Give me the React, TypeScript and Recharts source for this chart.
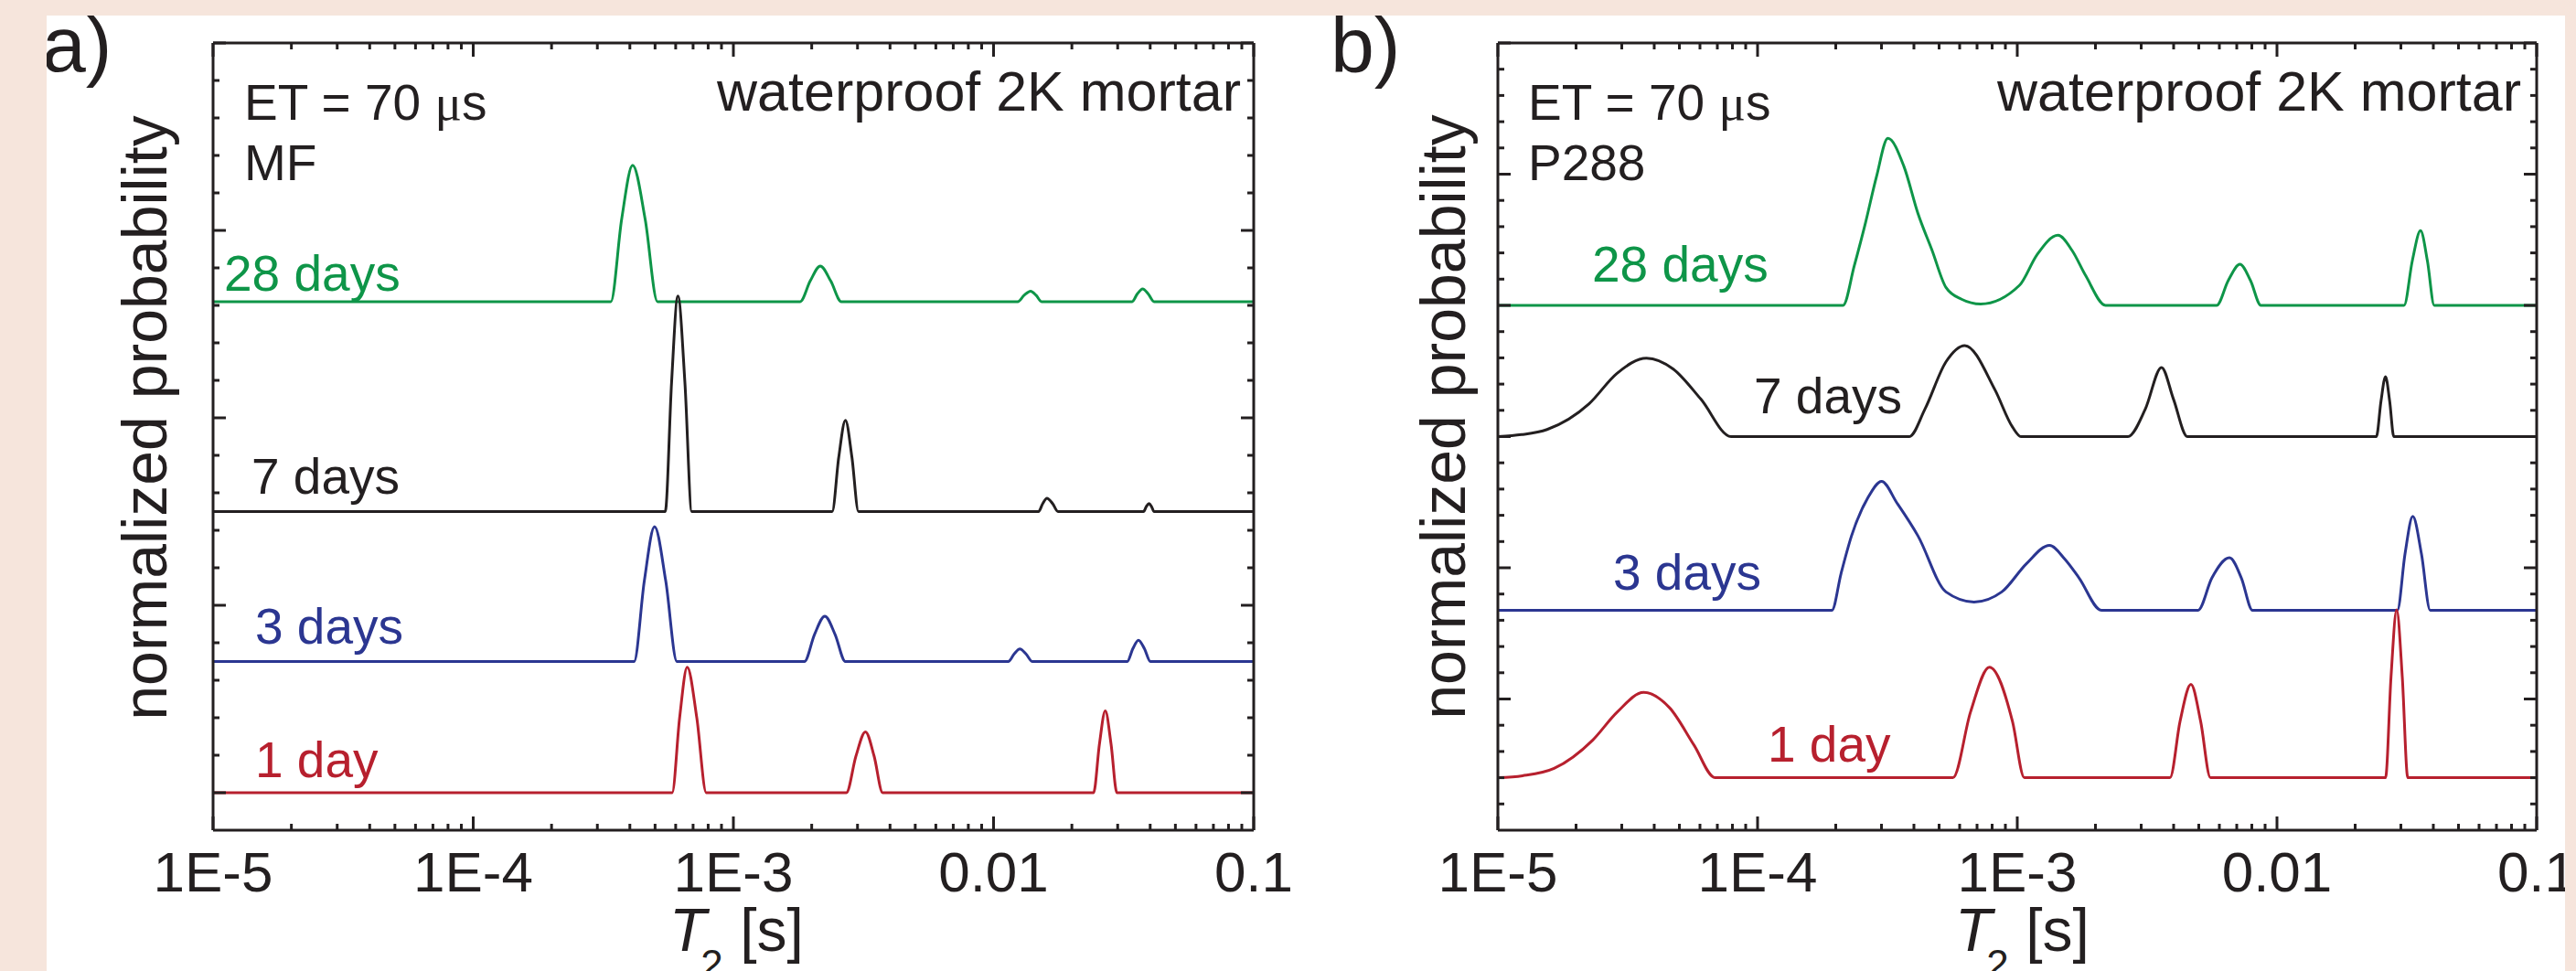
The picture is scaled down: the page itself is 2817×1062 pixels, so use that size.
import { LineChart, Line, XAxis, YAxis } from 'recharts'

const INK = '#231f20'
const PEACH = '#f6e5dc'
const FONT = '"Liberation Sans", Arial, Helvetica, sans-serif'

const COLORS: Record<string, string> = {
  d28: '#0e9548',
  d7: '#231f20',
  d3: '#2b3691',
  d1: '#b7202e',
}

// x axis: T2 in seconds, log scale
const X_TICKS = [
  1e-5, 2e-5, 3e-5, 4e-5, 5e-5, 6e-5, 7e-5, 8e-5, 9e-5,
  1e-4, 2e-4, 3e-4, 4e-4, 5e-4, 6e-4, 7e-4, 8e-4, 9e-4,
  1e-3, 2e-3, 3e-3, 4e-3, 5e-3, 6e-3, 7e-3, 8e-3, 9e-3,
  0.01, 0.02, 0.03, 0.04, 0.05, 0.06, 0.07, 0.08, 0.09, 0.1,
]
const DECADES = [1e-5, 1e-4, 1e-3, 0.01, 0.1]
const DECADE_LABELS = ['1E-5', '1E-4', '1E-3', '0.01', '0.1']

// y axes have no labels, only ticks
const A_Y_TICKS = [0, 0.2, 0.4, 0.6, 0.8, 1, 1.2, 1.4, 1.6, 1.8, 2, 2.2, 2.4, 2.6, 2.8, 3, 3.2, 3.4, 3.6, 3.8, 4]
const B_Y_TICKS = [
  0.2, 0.4, 0.6, 0.8, 1, 1.2, 1.4, 1.6, 1.8, 2, 2.2, 2.4, 2.6, 2.8, 3,
  3.2, 3.4, 3.6, 3.8, 4, 4.2, 4.4, 4.6, 4.8, 5, 5.2, 5.4, 5.6, 5.8, 6,
]

// panel a) MF — [T2 (s), normalized probability above the curve's baseline]
const A_DAY28: [number, number][] = [
  [1e-5, 0],
  [3.38e-4, 0], [3.72e-4, 0.44], [4.1e-4, 0.727], [4.58e-4, 0.44], [5.11e-4, 0],
  [1.806e-3, 0], [1.974e-3, 0.11], [2.158e-3, 0.19], [2.367e-3, 0.11], [2.599e-3, 0],
  [1.239e-2, 0], [1.311e-2, 0.034], [1.388e-2, 0.056], [1.457e-2, 0.034], [1.529e-2, 0],
  [3.41e-2, 0], [3.568e-2, 0.041], [3.74e-2, 0.068], [3.932e-2, 0.041], [4.14e-2, 0],
  [0.1, 0],
]
const A_DAY7: [number, number][] = [
  [1e-5, 0],
  [5.47e-4, 0], [5.787e-4, 0.69], [6.12e-4, 1.15], [6.51e-4, 0.69], [6.92e-4, 0],
  [2.397e-3, 0], [2.541e-3, 0.29], [2.696e-3, 0.487], [2.855e-3, 0.29], [3.026e-3, 0],
  [1.489e-2, 0], [1.546e-2, 0.043], [1.604e-2, 0.071], [1.686e-2, 0.043], [1.769e-2, 0],
  [3.77e-2, 0], [3.864e-2, 0.026], [3.96e-2, 0.043], [4.05e-2, 0.026], [4.14e-2, 0],
  [0.1, 0],
]
const A_DAY3: [number, number][] = [
  [1e-5, 0],
  [4.153e-4, 0], [4.546e-4, 0.43], [4.977e-4, 0.72], [5.495e-4, 0.43], [6.069e-4, 0],
  [1.874e-3, 0], [2.051e-3, 0.145], [2.246e-3, 0.242], [2.459e-3, 0.145], [2.696e-3, 0],
  [1.139e-2, 0], [1.2e-2, 0.04], [1.262e-2, 0.067], [1.333e-2, 0.04], [1.411e-2, 0],
  [3.266e-2, 0], [3.43e-2, 0.068], [3.605e-2, 0.114], [3.802e-2, 0.068], [4.007e-2, 0],
  [0.1, 0],
]
const A_DAY1: [number, number][] = [
  [1e-5, 0],
  [5.815e-4, 0], [6.214e-4, 0.4], [6.645e-4, 0.67], [7.233e-4, 0.4], [7.87e-4, 0],
  [2.718e-3, 0], [2.958e-3, 0.195], [3.218e-3, 0.325], [3.475e-3, 0.195], [3.75e-3, 0],
  [2.424e-2, 0], [2.553e-2, 0.26], [2.689e-2, 0.437], [2.829e-2, 0.26], [2.98e-2, 0],
  [0.1, 0],
]
const A_OFFSETS = { d28: 2.62, d7: 1.5, d3: 0.7, d1: 0 }

// panel b) P288
const B_DAY28: [number, number][] = [
  [1e-5, 0],
  [2.134e-4, 0], [2.356e-4, 0.3], [2.604e-4, 0.63], [2.869e-4, 0.98], [3.176e-4, 1.273],
  [3.659e-4, 1.06], [4.146e-4, 0.7], [4.697e-4, 0.42], [5.314e-4, 0.137], [6.1e-4, 0.047],
  [7.23e-4, 0.01], [1.02e-3, 0.153], [1.19e-3, 0.384], [1.435e-3, 0.534], [1.624e-3, 0.42],
  [1.837e-3, 0.224], [2.187e-3, 0],
  [5.856e-3, 0], [6.494e-3, 0.19], [7.2e-3, 0.313], [7.906e-3, 0.19], [8.679e-3, 0],
  [3.086e-2, 0], [3.32e-2, 0.34], [3.571e-2, 0.569], [3.795e-2, 0.34], [4.033e-2, 0],
  [0.1, 0],
]
const B_DAY7: [number, number][] = [
  [1e-5, 0], [1.234e-5, 0.015], [1.547e-5, 0.054], [2.245e-5, 0.25], [2.869e-5, 0.48],
  [3.734e-5, 0.598], [4.727e-5, 0.516], [6.05e-5, 0.285], [7.906e-5, 0],
  [3.842e-4, 0], [4.411e-4, 0.21], [5.314e-4, 0.57], [6.28e-4, 0.694], [8.206e-4, 0.356],
  [9.59e-4, 0.072], [1.033e-3, 0],
  [2.667e-3, 0], [3.112e-3, 0.21], [3.592e-3, 0.527], [3.995e-3, 0.285], [4.519e-3, 0],
  [2.414e-2, 0], [2.515e-2, 0.27], [2.618e-2, 0.457], [2.716e-2, 0.27], [2.818e-2, 0],
  [0.1, 0],
]
const B_DAY3: [number, number][] = [
  [1e-5, 0],
  [1.933e-4, 0], [2.097e-4, 0.282], [2.3e-4, 0.567], [2.652e-4, 0.853], [3.003e-4, 0.983],
  [3.443e-4, 0.817], [4.146e-4, 0.567], [5.314e-4, 0.14], [6.817e-4, 0.063], [8.713e-4, 0.14],
  [1.084e-3, 0.355], [1.331e-3, 0.495], [1.524e-3, 0.39], [1.729e-3, 0.247], [2.109e-3, 0],
  [4.964e-3, 0], [5.618e-3, 0.247], [6.563e-3, 0.4], [7.29e-3, 0.247], [8.054e-3, 0],
  [2.909e-2, 0], [3.112e-2, 0.43], [3.334e-2, 0.716], [3.6e-2, 0.43], [3.891e-2, 0],
  [0.1, 0],
]
const B_DAY1: [number, number][] = [
  [1e-5, 0], [1.245e-5, 0.015], [1.646e-5, 0.071], [2.316e-5, 0.286], [2.879e-5, 0.5],
  [3.641e-5, 0.65], [4.584e-5, 0.533], [5.69e-5, 0.249], [6.861e-5, 0],
  [5.653e-4, 0], [6.605e-4, 0.5], [7.81e-4, 0.843], [9.59e-4, 0.426], [1.065e-3, 0],
  [3.873e-3, 0], [4.235e-3, 0.43], [4.664e-3, 0.711], [5.082e-3, 0.43], [5.546e-3, 0],
  [2.618e-2, 0], [2.749e-2, 0.77], [2.89e-2, 1.28], [3.037e-2, 0.77], [3.19e-2, 0],
  [0.1, 0],
]
const B_OFFSETS = { d28: 4.0, d7: 3.0, d3: 1.676, d1: 0.4 }

const PLOT_TOP = 47
const PLOT_BOTTOM = 908

const shift = (pts: [number, number][], off: number) => pts.map(([t, v]) => ({ t, v: v + off }))

const majorIndex = (v: number) => DECADES.findIndex(d => Math.abs(v - d) / d < 1e-6)
const isInt = (v: number) => Math.abs(v - Math.round(v)) < 1e-6

function BottomTick(props: any) {
  const { x, payload } = props
  const i = majorIndex(payload.value)
  const len = i >= 0 ? 15 : 7
  return (
    <g>
      <line x1={x} x2={x} y1={PLOT_BOTTOM} y2={PLOT_BOTTOM - len} stroke={INK} strokeWidth={3} />
      {i >= 0 && (
        <text x={x} y={PLOT_BOTTOM + 67} textAnchor="middle" fontSize={62} fontFamily={FONT} fill={INK}>
          {DECADE_LABELS[i]}
        </text>
      )}
    </g>
  )
}

function TopTick(props: any) {
  const { x, payload } = props
  const len = majorIndex(payload.value) >= 0 ? 15 : 7
  return <line x1={x} x2={x} y1={PLOT_TOP} y2={PLOT_TOP + len} stroke={INK} strokeWidth={3} />
}

function SideTick(props: any) {
  const { y, payload, edge, dir } = props
  const len = isInt(payload.value) ? 14 : 7
  return <line x1={edge} x2={edge + dir * len} y1={y} y2={y} stroke={INK} strokeWidth={3} />
}

interface PanelProps {
  left: number
  width: number
  plotLeft: number
  plotRight: number
  yDomain: [number, number]
  yTicks: number[]
  series: { key: string; pts: [number, number][]; off: number }[]
}

function Panel({ left, width, plotLeft, plotRight, yDomain, yTicks, series }: PanelProps) {
  const frame = { stroke: INK, strokeWidth: 3 }
  // each axis takes 1px, so margins are reduced by one
  return (
    <div style={{ position: 'absolute', left, top: 0 }}>
      <LineChart
        width={width}
        height={1062}
        margin={{ top: PLOT_TOP - 1, right: width - plotRight - 1, bottom: 1062 - PLOT_BOTTOM - 1, left: plotLeft - 1 }}
      >
        <XAxis
          xAxisId="b" dataKey="t" type="number" scale="log" domain={[1e-5, 0.1]} allowDataOverflow
          ticks={X_TICKS} interval={0} height={1} axisLine={frame} tickLine={false} tick={BottomTick}
        />
        <XAxis
          xAxisId="t" orientation="top" dataKey="t" type="number" scale="log" domain={[1e-5, 0.1]} allowDataOverflow
          ticks={X_TICKS} interval={0} height={1} axisLine={frame} tickLine={false} tick={TopTick}
        />
        <YAxis
          yAxisId="l" type="number" domain={yDomain} allowDataOverflow ticks={yTicks} interval={0}
          width={1} axisLine={frame} tickLine={false}
          tick={(p: any) => <SideTick {...p} edge={plotLeft} dir={1} />}
        />
        <YAxis
          yAxisId="r" orientation="right" type="number" domain={yDomain} allowDataOverflow ticks={yTicks}
          interval={0} width={1} axisLine={frame} tickLine={false}
          tick={(p: any) => <SideTick {...p} edge={plotRight} dir={-1} />}
        />
        {series.map(s => (
          <Line
            key={s.key}
            xAxisId="b"
            yAxisId="l"
            data={shift(s.pts, s.off)}
            dataKey="v"
            type="monotone"
            stroke={COLORS[s.key]}
            strokeWidth={3}
            dot={false}
            isAnimationActive={false}
          />
        ))}
      </LineChart>
    </div>
  )
}

function Texts() {
  const t = { fontFamily: FONT, fill: INK }
  const axisTitle = (x: number) => (
    <text x={x} y={1040} fontSize={66} {...t}>
      <tspan fontStyle="italic">T</tspan>
      <tspan fontSize={44} dx={-6} dy={30}>2</tspan>
      <tspan dy={-30}> [s]</tspan>
    </text>
  )
  const et = (x: number, second: string) => (
    <>
      <text x={x} y={131} fontSize={55} {...t}>
        ET = 70 <tspan fontFamily='"Liberation Serif", serif'>μ</tspan>s
      </text>
      <text x={x} y={197} fontSize={55} {...t}>{second}</text>
    </>
  )
  const lbl = (x: number, y: number, key: string, s: string) => (
    <text x={x} y={y} fontSize={55} fontFamily={FONT} fill={COLORS[key]}>{s}</text>
  )
  return (
    <svg width={2817} height={1062} style={{ position: 'absolute', left: 0, top: 0 }}>
      <text x={46} y={78} fontSize={86} {...t}>a)</text>
      <text x={1455} y={79} fontSize={86} {...t}>b)</text>

      <text transform="translate(182,457) rotate(-90)" textAnchor="middle" fontSize={68} {...t}>
        normalized probability
      </text>
      <text transform="translate(1602,456) rotate(-90)" textAnchor="middle" fontSize={68} {...t}>
        normalized probability
      </text>

      {axisTitle(732)}
      {axisTitle(2138)}

      {et(267, 'MF')}
      {et(1671, 'P288')}

      <text x={1357} y={121} textAnchor="end" fontSize={61} {...t}>waterproof 2K mortar</text>
      <text x={2757} y={121} textAnchor="end" fontSize={61} {...t}>waterproof 2K mortar</text>

      {lbl(245, 318, 'd28', '28 days')}
      {lbl(275, 540, 'd7', '7 days')}
      {lbl(279, 704, 'd3', '3 days')}
      {lbl(279, 850, 'd1', '1 day')}

      {lbl(1741, 308, 'd28', '28 days')}
      {lbl(1918, 452, 'd7', '7 days')}
      {lbl(1764, 645, 'd3', '3 days')}
      {lbl(1933, 833, 'd1', '1 day')}
    </svg>
  )
}

export default function App() {
  const seriesA = [
    { key: 'd28', pts: A_DAY28, off: A_OFFSETS.d28 },
    { key: 'd7', pts: A_DAY7, off: A_OFFSETS.d7 },
    { key: 'd3', pts: A_DAY3, off: A_OFFSETS.d3 },
    { key: 'd1', pts: A_DAY1, off: A_OFFSETS.d1 },
  ]
  const seriesB = [
    { key: 'd28', pts: B_DAY28, off: B_OFFSETS.d28 },
    { key: 'd7', pts: B_DAY7, off: B_OFFSETS.d7 },
    { key: 'd3', pts: B_DAY3, off: B_OFFSETS.d3 },
    { key: 'd1', pts: B_DAY1, off: B_OFFSETS.d1 },
  ]
  return (
    <div style={{ position: 'absolute', left: 0, top: 0, width: 2817, height: 1062, background: '#ffffff', overflow: 'hidden' }}>
      <Panel left={0} width={1440} plotLeft={233} plotRight={1371} yDomain={[-0.2, 4]} yTicks={A_Y_TICKS} series={seriesA} />
      <Panel left={1400} width={1417} plotLeft={238} plotRight={1374} yDomain={[0, 6]} yTicks={B_Y_TICKS} series={seriesB} />
      <Texts />
      {/* peach page border sits on top and clips the edges */}
      <div style={{ position: 'absolute', left: 0, top: 0, width: 2817, height: 17, background: PEACH }} />
      <div style={{ position: 'absolute', left: 0, top: 0, width: 51, height: 1062, background: PEACH }} />
      <div style={{ position: 'absolute', left: 2805, top: 0, width: 12, height: 1062, background: PEACH }} />
    </div>
  )
}
